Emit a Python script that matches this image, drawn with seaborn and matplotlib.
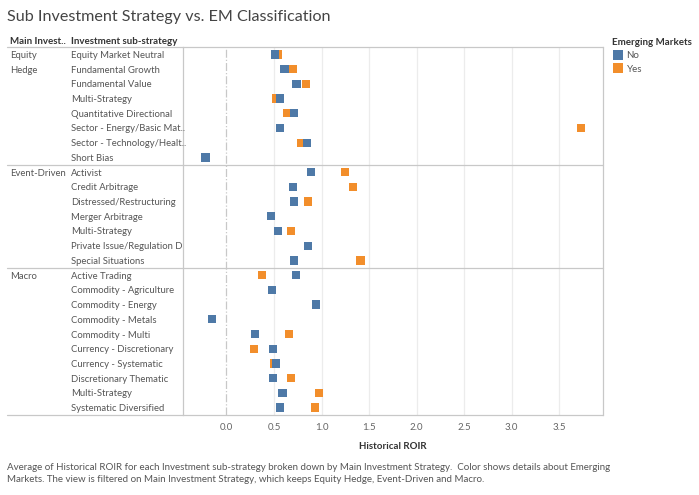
import matplotlib
matplotlib.use("Agg")
import matplotlib.pyplot as plt
import seaborn as sns
import pandas as pd
from matplotlib.transforms import blended_transform_factory

# ---------------- data ----------------
main_strategies = ["Equity Hedge"] * 8 + ["Event-Driven"] * 7 + ["Macro"] * 10
group_labels = [["Equity", "Hedge"], ["Event-Driven"], ["Macro"]]
sub_strategies = [
    "Equity Market Neutral", "Fundamental Growth", "Fundamental Value", "Multi-Strategy",
    "Quantitative Directional", "Sector - Energy/Basic Mat..", "Sector - Technology/Healt..",
    "Short Bias",
    "Activist", "Credit Arbitrage", "Distressed/Restructuring", "Merger Arbitrage",
    "Multi-Strategy", "Private Issue/Regulation D", "Special Situations",
    "Active Trading", "Commodity - Agriculture", "Commodity - Energy", "Commodity - Metals",
    "Commodity - Multi", "Currency - Discretionary", "Currency - Systematic",
    "Discretionary Thematic", "Multi-Strategy", "Systematic Diversified",
]
roir_no = [0.51, 0.61, 0.735, 0.56, 0.71, 0.56, 0.845, -0.22,
           0.89, 0.70, 0.71, 0.47, 0.54, 0.855, 0.71,
           0.73, 0.48, 0.945, -0.155, 0.30, 0.49, 0.52, 0.49, 0.59, 0.56]
roir_yes = [0.54, 0.70, 0.835, 0.52, 0.635, 3.73, 0.79, None,
            1.245, 1.33, 0.855, None, 0.68, None, 1.41,
            0.375, None, None, None, 0.655, 0.29, 0.50, 0.68, 0.97, 0.93]
em_order = ["No", "Yes"]
em_colors = ["#4e79a7", "#f28e2b"]
x_ticks = [0.0, 0.5, 1.0, 1.5, 2.0, 2.5, 3.0, 3.5]

title = "Sub Investment Strategy vs. EM Classification"
footer = ("Average of Historical ROIR for each Investment sub-strategy broken down by Main Investment Strategy.  Color shows details about Emerging\n"
          "Markets. The view is filtered on Main Investment Strategy, which keeps Equity Hedge, Event-Driven and Macro.")

# ---------------- table ----------------
rows = []
for em, vals in (("Yes", roir_yes), ("No", roir_no)):   # draw "Yes" first so "No" sits on top
    for i, v in enumerate(vals):
        if v is not None:
            rows.append({"row": i, "Main": main_strategies[i], "Sub": sub_strategies[i],
                         "Emerging Markets": em, "Historical ROIR": v})
df = pd.DataFrame(rows)

# ---------------- figure ----------------
sns.set_theme(style="white")
plt.rcParams["font.family"] = ["Lato", "DejaVu Sans"]

W, H = 699, 495
fig = plt.figure(figsize=(W / 100, H / 100), dpi=100)

def fx(px):
    return px / W

def fy(py):
    return 1 - py / H

L, R, T, B = 183, 603, 47, 415
ax = fig.add_axes([fx(L), fy(B), fx(R) - fx(L), fy(T) - fy(B)])

sns.scatterplot(data=df, x="Historical ROIR", y="row", hue="Emerging Markets",
                hue_order=em_order, palette=em_colors, marker="s", s=36,
                linewidth=0, ax=ax, legend=True, zorder=3)

n = len(sub_strategies)
ax.set_ylim(n - 0.5, -0.5)
ax.set_xlim(-0.457, 3.96)
ax.set_yticks([])
ax.set_xticks(x_ticks)
ax.set_xticklabels([f"{t:.1f}" for t in x_ticks], fontsize=7, color="#666666")
ax.tick_params(axis="x", length=0, pad=6)
ax.set_ylabel("")
ax.set_xlabel("Historical ROIR", fontsize=7, fontweight="bold", color="#333333", labelpad=7)

# grid
for t in x_ticks:
    if t == 0:
        ax.axvline(0, color="#c8c8c8", lw=0.9, ls="-.", zorder=1)
    else:
        ax.axvline(t, color="#ececec", lw=0.9, zorder=1)

for side in ["top", "bottom"]:
    ax.spines[side].set_visible(False)
for side in ["left", "right"]:
    ax.spines[side].set_color("#c8c8c8")
    ax.spines[side].set_linewidth(0.9)

# horizontal frame lines spanning label columns
tr_y = blended_transform_factory(fig.transFigure, ax.transAxes)
for yy in (0, 1):
    ax.plot([fx(7), fx(R)], [yy, yy], transform=tr_y, color="#c8c8c8", lw=0.9, clip_on=False)
tr_d = blended_transform_factory(fig.transFigure, ax.transData)
bounds = [i for i in range(1, n) if main_strategies[i] != main_strategies[i - 1]]
for b in bounds:
    ax.plot([fx(7), fx(R)], [b - 0.5, b - 0.5], transform=tr_d, color="#c8c8c8", lw=0.9, clip_on=False)

# row labels
for i, s in enumerate(sub_strategies):
    ax.text(fx(71), i, s, transform=tr_d, ha="left", va="center_baseline", fontsize=6.8,
            color="#555555")
starts = [0] + bounds
for gi, st in enumerate(starts):
    for li, line in enumerate(group_labels[gi]):
        ax.text(fx(10), st + li, line, transform=tr_d, ha="left", va="center_baseline",
                fontsize=6.8, color="#555555")

# column headers
fig.text(fx(10), fy(41), "Main Invest..", ha="left", va="center", fontsize=7,
         fontweight="bold", color="#333333")
fig.text(fx(71), fy(41), "Investment sub-strategy", ha="left", va="center", fontsize=7,
         fontweight="bold", color="#333333")

# title and footer
fig.text(fx(7), fy(17), title, ha="left", va="center", fontsize=11.6, color="#444444")
fig.text(fx(7), fy(473.5), footer, ha="left", va="center", fontsize=7.0, color="#555555",
         linespacing=1.45)

# legend
sns.move_legend(ax, "upper left", bbox_to_anchor=(fx(607), fy(33)),
                bbox_transform=fig.transFigure, frameon=False, title="Emerging Markets",
                fontsize=7, title_fontsize=7, markerscale=1.3, handletextpad=0.3,
                labelspacing=0.45, borderpad=0, handlelength=1.2)
leg = ax.get_legend()
leg.get_title().set_fontweight("bold")
leg.get_title().set_color("#333333")
leg._legend_box.align = "left"
for t in leg.get_texts():
    t.set_color("#555555")

fig.savefig("out.png", dpi=100)
